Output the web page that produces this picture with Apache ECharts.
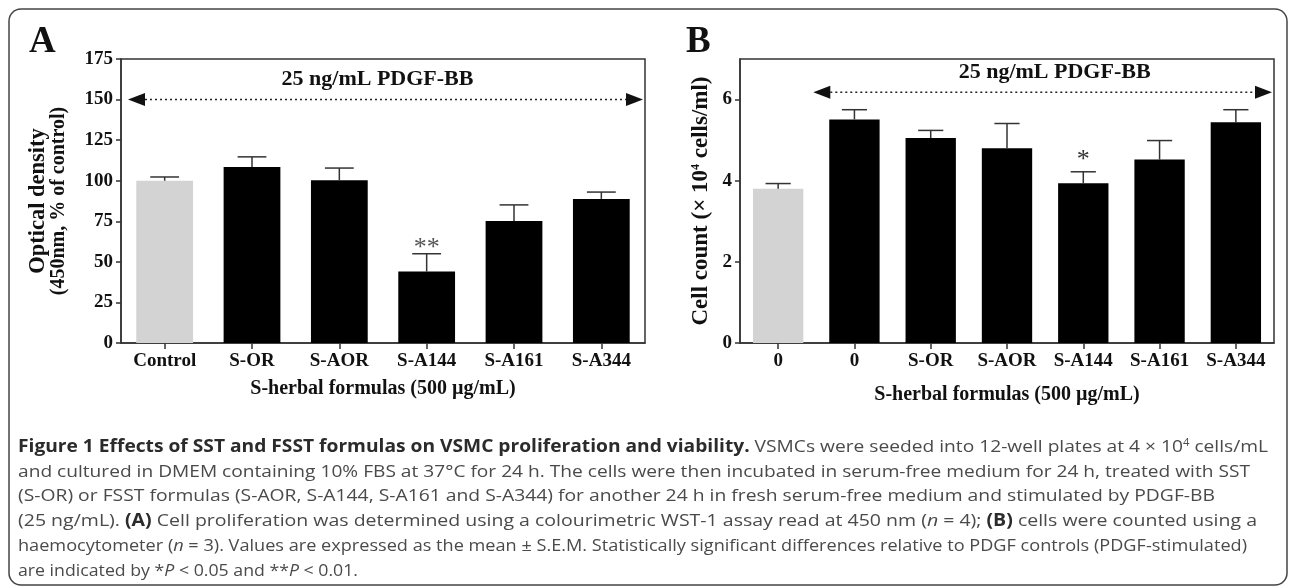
<!DOCTYPE html>
<html>
<head>
<meta charset="utf-8">
<script src="https://cdn.jsdelivr.net/npm/echarts@6/dist/echarts.min.js"></script>
<style>
  html, body { margin: 0; padding: 0; background: #ffffff; }
  #chart { width: 1292px; height: 587px; }
</style>
</head>
<body>
<div id="chart"></div>
<script>
// ---------------- DATA ----------------
const categoriesA = ['Control', 'S-OR', 'S-AOR', 'S-A144', 'S-A161', 'S-A344'];
const meansA = [100, 108.5, 100.3, 44, 75.2, 88.8];
const semA = [2.3, 6.2, 7.5, 11, 9.9, 4.2];
const sigA = ['', '', '', '**', '', ''];
const yTicksA = [0, 25, 50, 75, 100, 125, 150, 175];

const categoriesB = ['0', '0', 'S-OR', 'S-AOR', 'S-A144', 'S-A161', 'S-A344'];
const meansB = [3.80, 5.51, 5.05, 4.80, 3.94, 4.52, 5.44];
const semB = [0.13, 0.24, 0.19, 0.61, 0.28, 0.47, 0.31];
const sigB = ['', '', '', '', '*', '', ''];
const yTicksB = [0, 2, 4, 6];

const stimLabel = '25 ng/mL PDGF-BB';
const stimLevelA = 150;   // y value of dotted arrow, panel A
const stimLevelB = 6.18;  // y value of dotted arrow, panel B
const stimStartA = 0;     // first stimulated category index, panel A
const stimStartB = 1;     // first stimulated category index, panel B

const xTitle = 'S-herbal formulas (500 µg/mL)';
const yTitleA = '{l1|Optical density}\n{l2|(450nm, % of control)}';
const yTitleB = 'Cell count (× 10{sup|4} cells/ml)';

const captionLines = [
  '{b|Figure 1 Effects of SST and FSST formulas on VSMC proliferation and viability.} VSMCs were seeded into 12-well plates at 4 × 10{sup|4} cells/mL',
  'and cultured in DMEM containing 10% FBS at 37°C for 24 h. The cells were then incubated in serum-free medium for 24 h, treated with SST',
  '(S-OR) or FSST formulas (S-AOR, S-A144, S-A161 and S-A344) for another 24 h in fresh serum-free medium and stimulated by PDGF-BB',
  '(25 ng/mL). {b|(A)} Cell proliferation was determined using a colourimetric WST-1 assay read at 450 nm ({i|n} = 4); {b|(B)} cells were counted using a',
  'haemocytometer ({i|n} = 3). Values are expressed as the mean ± S.E.M. Statistically significant differences relative to PDGF controls (PDGF-stimulated)',
  'are indicated by *{i|P} < 0.05 and **{i|P} < 0.01.'
];

// ---------------- LAYOUT / STYLE ----------------
const SERIF = 'Liberation Serif';
const AX = '#333333';
const GRAY = '#d3d3d3';
const BLACK = '#000000';
const capLeft = 18;
const capTop = 447;
const capStep = 24.8;
const capEnds = [1268, 1250, 1215, 1257, 1247, 358];

const chart = echarts.init(document.getElementById('chart'), null, { renderer: 'canvas' });

function axisCommonX(idx, cats, nameGap) {
  return {
    type: 'category', gridIndex: idx, data: cats,
    axisLine: { show: true, lineStyle: { color: AX, width: 1.5 } },
    axisTick: { show: true, alignWithLabel: true, length: 6, lineStyle: { color: AX, width: 1.5 } },
    axisLabel: { interval: 0, fontFamily: SERIF, fontWeight: 'bold', fontSize: 19, color: '#111', margin: 9 },
    name: xTitle, nameLocation: 'middle', nameGap: nameGap,
    nameTextStyle: { fontFamily: SERIF, fontWeight: 'bold', fontSize: 20, color: '#111' }
  };
}

function barSeries(idx, vals) {
  return {
    type: 'bar', xAxisIndex: idx, yAxisIndex: idx, data: vals,
    barWidth: idx === 0 ? '65%' : '66%',
    itemStyle: { color: (p) => p.dataIndex === 0 ? GRAY : BLACK },
    silent: true, animation: false, z: 2
  };
}

function errSeries(idx, vals, sems, sig, starSize, starColor, starLift) {
  return {
    type: 'custom', xAxisIndex: idx, yAxisIndex: idx,
    data: vals.map((v, i) => [i, v, sems[i]]),
    animation: false, silent: true, z: 5,
    renderItem: function (params, api) {
      const i = api.value(0), v = api.value(1), e = api.value(2);
      const p0 = api.coord([i, v]);
      const p1 = api.coord([i, v + e]);
      const half = api.size([1, 0])[0] * 0.165;
      const children = [
        { type: 'line', shape: { x1: p0[0], y1: p0[1], x2: p1[0], y2: p1[1] }, style: { stroke: AX, lineWidth: 1.5 } },
        { type: 'line', shape: { x1: p1[0] - half, y1: p1[1], x2: p1[0] + half, y2: p1[1] }, style: { stroke: AX, lineWidth: 1.5 } }
      ];
      if (sig[i]) {
        children.push({ type: 'text', x: p1[0], y: p1[1] - starLift,
          style: { text: sig[i], fontFamily: SERIF, fontSize: starSize, fill: starColor, align: 'center', verticalAlign: 'middle' } });
      }
      return { type: 'group', children: children };
    }
  };
}

function arrowSeries(idx, level, startIdx, textDx) {
  return {
    type: 'custom', xAxisIndex: idx, yAxisIndex: idx,
    data: [[startIdx, level]], animation: false, silent: true, z: 6,
    renderItem: function (params, api) {
      const cs = params.coordSys;
      const p = api.coord([api.value(0), api.value(1)]);
      const band = api.size([1, 0])[0];
      const x0 = Math.max(cs.x + 7, p[0] - band / 2 - 3);
      const x1 = cs.x + cs.width - 2;
      const y = p[1];
      const aw = 17, ah = 6.5;
      return { type: 'group', children: [
        { type: 'line', shape: { x1: x0 + aw, y1: y, x2: x1 - aw, y2: y }, style: { stroke: '#222', lineWidth: 1.5, lineDash: [2, 3] } },
        { type: 'polygon', shape: { points: [[x0, y], [x0 + aw, y - ah], [x0 + aw, y + ah]] }, style: { fill: '#111' } },
        { type: 'polygon', shape: { points: [[x1, y], [x1 - aw, y - ah], [x1 - aw, y + ah]] }, style: { fill: '#111' } },
        { type: 'text', x: (x0 + x1) / 2 + textDx, y: y - 20,
          style: { text: stimLabel, fontFamily: SERIF, fontWeight: 'bold', fontSize: 22, fill: '#111', align: 'center', verticalAlign: 'middle' } }
      ] };
    }
  };
}

function captionStyle(line) {
  return {
    text: line, fontFamily: 'Open Sans', fontSize: 17, fill: '#4a4a4a', verticalAlign: 'middle',
    rich: {
      b: { fontFamily: 'Open Sans', fontSize: 17, fontWeight: 'bold', fill: '#2b2b2b' },
      i: { fontFamily: 'Open Sans', fontSize: 17, fontStyle: 'italic', fill: '#4a4a4a' },
      sup: { fontFamily: 'Open Sans', fontSize: 10, fill: '#4a4a4a', verticalAlign: 'top', padding: [0, 0, 7, 0] }
    }
  };
}

function measure(style) {
  try {
    const t = new echarts.graphic.Text({ style: style });
    const w = t.getBoundingRect().width;
    if (w > 0) return w;
  } catch (e) {}
  return null;
}

const captionGraphics = captionLines.map((line, k) => {
  const st = captionStyle(line);
  const w = measure(st);
  const target = capEnds[k] - capLeft;
  const sx = w ? target / w : 1.13;
  return { type: 'text', x: capLeft, y: capTop + k * capStep, scaleX: sx, scaleY: 1, silent: true, style: st };
});

const option = {
  backgroundColor: '#ffffff',
  animation: false,
  grid: [
    { left: 121, right: 647, top: 59, bottom: 244, show: true, borderColor: AX, borderWidth: 1.5, backgroundColor: 'transparent', containLabel: false },
    { left: 740, right: 18, top: 59, bottom: 244, show: true, borderColor: AX, borderWidth: 1.5, backgroundColor: 'transparent', containLabel: false }
  ],
  xAxis: [axisCommonX(0, categoriesA, 36), axisCommonX(1, categoriesB, 42)],
  yAxis: [
    {
      type: 'value', gridIndex: 0, min: 0, max: 175, interval: 25,
      axisLine: { show: true, lineStyle: { color: AX, width: 1.5 } },
      axisTick: { show: true, length: 5, lineStyle: { color: AX, width: 1.5 }, customValues: yTicksA },
      axisLabel: { fontFamily: SERIF, fontWeight: 'bold', fontSize: 19, color: '#111', margin: 8, customValues: yTicksA },
      splitLine: { show: false },
      name: yTitleA, nameLocation: 'middle', nameGap: 52, nameRotate: 90,
      nameTextStyle: { fontFamily: SERIF, fontWeight: 'bold', fontSize: 21, color: '#111', lineHeight: 20,
        rich: {
          l1: { fontFamily: SERIF, fontWeight: 'bold', fontSize: 22.5, color: '#111', lineHeight: 21 },
          l2: { fontFamily: SERIF, fontWeight: 'bold', fontSize: 20, color: '#111', lineHeight: 20 }
        } }
    },
    {
      type: 'value', gridIndex: 1, min: 0, max: 7, interval: 2,
      axisLine: { show: true, lineStyle: { color: AX, width: 1.5 } },
      axisTick: { show: true, length: 5, lineStyle: { color: AX, width: 1.5 }, customValues: yTicksB },
      axisLabel: { fontFamily: SERIF, fontWeight: 'bold', fontSize: 19, color: '#111', margin: 8, customValues: yTicksB },
      splitLine: { show: false },
      name: yTitleB, nameLocation: 'middle', nameGap: 27, nameRotate: 90,
      nameTextStyle: { fontFamily: SERIF, fontWeight: 'bold', fontSize: 23, color: '#111',
        rich: { sup: { fontFamily: SERIF, fontWeight: 'bold', fontSize: 12, color: '#111', verticalAlign: 'top' } } }
    }
  ],
  series: [
    barSeries(0, meansA),
    errSeries(0, meansA, semA, sigA, 26, '#555', 6),
    arrowSeries(0, stimLevelA, stimStartA, -8),
    barSeries(1, meansB),
    errSeries(1, meansB, semB, sigB, 26, '#333', 12),
    arrowSeries(1, stimLevelB, stimStartB, 12)
  ],
  graphic: [
    { type: 'rect', silent: true, shape: { x: 9, y: 9, width: 1278, height: 576, r: 12 }, style: { fill: 'none', stroke: '#444', lineWidth: 1.5 } },
    { type: 'text', left: 29, top: 24, silent: true, style: { text: 'A', fontFamily: SERIF, fontWeight: 'bold', fontSize: 37, fill: '#111' } },
    { type: 'text', left: 686, top: 24, silent: true, style: { text: 'B', fontFamily: SERIF, fontWeight: 'bold', fontSize: 37, fill: '#111' } }
  ].concat(captionGraphics)
};

chart.setOption(option);
</script>
</body>
</html>
